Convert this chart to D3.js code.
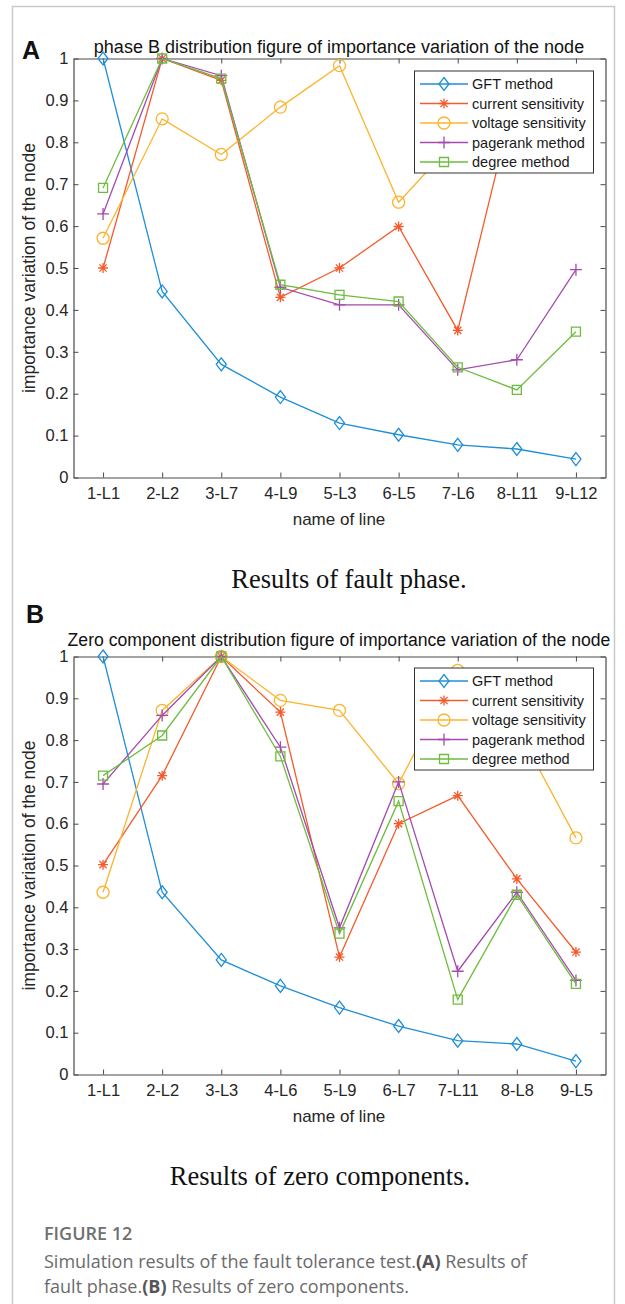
<!DOCTYPE html>
<html>
<head>
<meta charset="utf-8">
<script src="https://cdn.jsdelivr.net/npm/d3@7"></script>
<style>
  body { margin: 0; background: #fff; }
  svg { display: block; }
</style>
</head>
<body>
<svg id="fig" width="625" height="1304"></svg>
<script>
// data
const seriesNames = ["GFT method", "current sensitivity", "voltage sensitivity", "pagerank method", "degree method"];

const linesA = ["1-L1", "2-L2", "3-L7", "4-L9", "5-L3", "6-L5", "7-L6", "8-L11", "9-L12"];
const gftA = [1, 0.444, 0.270, 0.192, 0.130, 0.102, 0.078, 0.068, 0.044];
const currentA = [0.5, 1, 0.948, 0.430, 0.5, 0.599, 0.351, 0.93, 0.90];
const voltageA = [0.571, 0.856, 0.771, 0.884, 0.983, 0.657, 0.81, 0.85, 0.92];
const pagerankA = [0.629, 1, 0.959, 0.454, 0.412, 0.412, 0.257, 0.281, 0.496];
const degreeA = [0.691, 1, 0.952, 0.460, 0.436, 0.420, 0.263, 0.209, 0.348];

const linesB = ["1-L1", "2-L2", "3-L3", "4-L6", "5-L9", "6-L7", "7-L11", "8-L8", "9-L5"];
const gftB = [1, 0.436, 0.274, 0.212, 0.160, 0.116, 0.081, 0.073, 0.032];
const currentB = [0.502, 0.715, 1, 0.867, 0.281, 0.600, 0.667, 0.468, 0.293];
const voltageB = [0.436, 0.871, 1, 0.895, 0.871, 0.696, 0.967, 0.83, 0.566];
const pagerankB = [0.695, 0.859, 1, 0.783, 0.351, 0.700, 0.247, 0.436, 0.225];
const degreeB = [0.715, 0.811, 1, 0.761, 0.337, 0.654, 0.179, 0.430, 0.217];

const yTicks = [0, 0.1, 0.2, 0.3, 0.4, 0.5, 0.6, 0.7, 0.8, 0.9, 1];

const colors = ["#1f8fd6", "#f55a2c", "#fbb42c", "#a44ab0", "#6dbd3e"];
const markers = ["diamond", "asterisk", "circle", "plus", "square"];

const svg = d3.select("#fig");
const font = "'Liberation Sans', Arial, sans-serif";

// outer frame
svg.append("path")
    .attr("d", "M12.5,1304 V6.5 H614.5 V1304")
    .attr("fill", "none")
    .attr("stroke", "#c9c9c9")
    .attr("stroke-width", 1.5);

function markerPath(type) {
    if (type === "diamond") return "M0,-6.5 L5,0 L0,6.5 L-5,0 Z";
    if (type === "asterisk") return "M-5,0 H5 M0,-5 V5 M-3.6,-3.6 L3.6,3.6 M-3.6,3.6 L3.6,-3.6";
    if (type === "circle") return "M6,0 A6,6 0 1,1 -6,0 A6,6 0 1,1 6,0 Z";
    if (type === "plus") return "M-6,0 H6 M0,-6 V6";
    return "M-4.5,-4.5 H4.5 V4.5 H-4.5 Z";
}

function drawPanel(opt) {
    const x = d3.scalePoint().domain(opt.cats).range([73.5, 605.5]).padding(0.5);
    const y = d3.scaleLinear().domain([0, 1]).range([opt.bottom, opt.top]);
    const g = svg.append("g");

    // panel letter
    g.append("text")
        .attr("x", opt.letterX).attr("y", opt.letterY)
        .attr("font-family", font).attr("font-weight", "bold")
        .attr("font-size", 25).attr("fill", "#111")
        .text(opt.letter);

    // title
    g.append("text")
        .attr("x", 339).attr("y", opt.top - opt.titleGap)
        .attr("text-anchor", "middle")
        .attr("font-family", font).attr("font-size", opt.titleSize).attr("fill", "#111")
        .text(opt.title);

    // axes (MATLAB style: inward ticks, full box)
    const axColor = "#4a4a4a";
    const bottomAxis = g.append("g")
        .attr("transform", `translate(0,${opt.bottom})`)
        .call(d3.axisBottom(x).tickSizeInner(-5).tickSizeOuter(0).tickPadding(10));
    const leftAxis = g.append("g")
        .attr("transform", "translate(73.5,0)")
        .call(d3.axisLeft(y).tickValues(yTicks).tickFormat(d3.format("~g")).tickSizeInner(-5).tickSizeOuter(0).tickPadding(5));
    const topAxis = g.append("g")
        .attr("transform", `translate(0,${opt.top})`)
        .call(d3.axisTop(x).tickSizeInner(-5).tickSizeOuter(0).tickFormat(""));
    const rightAxis = g.append("g")
        .attr("transform", "translate(605.5,0)")
        .call(d3.axisRight(y).tickValues(yTicks).tickSizeInner(-5).tickSizeOuter(0).tickFormat(""));

    [bottomAxis, leftAxis, topAxis, rightAxis].forEach(a => {
        a.select(".domain").attr("stroke", axColor).attr("stroke-width", 1.2);
        a.selectAll(".tick line").attr("stroke", axColor).attr("stroke-width", 1);
        a.selectAll(".tick text")
            .attr("font-family", font).attr("font-size", 16.5).attr("fill", "#262626");
    });

    // axis labels
    g.append("text")
        .attr("x", 339).attr("y", opt.bottom + 47)
        .attr("text-anchor", "middle")
        .attr("font-family", font).attr("font-size", 17).attr("fill", "#262626")
        .text("name of line");
    g.append("text")
        .attr("transform", `translate(35,${(opt.top + opt.bottom) / 2}) rotate(-90)`)
        .attr("text-anchor", "middle")
        .attr("font-family", font).attr("font-size", 17.5).attr("fill", "#262626")
        .text("importance variation of the node");

    // series
    const line = d3.line().x((d, i) => x(opt.cats[i])).y(d => y(d));
    opt.series.forEach((vals, s) => {
        g.append("path")
            .attr("d", line(vals))
            .attr("fill", "none")
            .attr("stroke", colors[s])
            .attr("stroke-width", 1.3);
        g.selectAll(null)
            .data(vals)
            .enter()
            .append("path")
            .attr("transform", (d, i) => `translate(${x(opt.cats[i])},${y(d)})`)
            .attr("d", markerPath(markers[s]))
            .attr("fill", "none")
            .attr("stroke", colors[s])
            .attr("stroke-width", 1.3);
    });

    // legend
    const lg = g.append("g").attr("transform", `translate(414,${opt.legendTop})`);
    lg.append("rect")
        .attr("x", 0.5).attr("y", 0.5)
        .attr("width", 179).attr("height", 102)
        .attr("fill", "#fff")
        .attr("stroke", "#333").attr("stroke-width", 1);
    seriesNames.forEach((name, s) => {
        const yy = 13.5 + s * 19.5;
        lg.append("line")
            .attr("x1", 6).attr("x2", 54).attr("y1", yy).attr("y2", yy)
            .attr("stroke", colors[s]).attr("stroke-width", 1.3);
        lg.append("path")
            .attr("transform", `translate(30,${yy})`)
            .attr("d", markerPath(markers[s]))
            .attr("fill", "none")
            .attr("stroke", colors[s]).attr("stroke-width", 1.3);
        lg.append("text")
            .attr("x", 58).attr("y", yy + 5)
            .attr("font-family", font).attr("font-size", 14.5).attr("fill", "#1a1a1a")
            .text(name);
    });

    // sub caption under the panel
    g.append("text")
        .attr("x", opt.subX).attr("y", opt.bottom + 110)
        .attr("text-anchor", "middle")
        .attr("font-family", "'Liberation Serif', 'Times New Roman', serif")
        .attr("font-size", 26.5).attr("fill", "#111")
        .text(opt.sub);
}

drawPanel({
    letter: "A", letterX: 22, letterY: 59,
    title: "phase B distribution figure of importance variation of the node",
    titleSize: 18, titleGap: 6,
    cats: linesA, top: 58.5, bottom: 477.5, legendTop: 70.5,
    series: [gftA, currentA, voltageA, pagerankA, degreeA],
    sub: "Results of fault phase.", subX: 349
});

drawPanel({
    letter: "B", letterX: 26, letterY: 623,
    title: "Zero component distribution figure of importance variation of the node",
    titleSize: 17.6, titleGap: 11,
    cats: linesB, top: 656.5, bottom: 1074.5, legendTop: 667.5,
    series: [gftB, currentB, voltageB, pagerankB, degreeB],
    sub: "Results of zero components.", subX: 320
});

// figure caption
const cap = svg.append("g").attr("font-family", "'Open Sans', 'Noto Sans', sans-serif").attr("fill", "#6b6b6b");
cap.append("text")
    .attr("x", 44).attr("y", 1240)
    .attr("font-size", 18).attr("font-weight", 600)
    .attr("fill", "#707070")
    .text("FIGURE 12");
const l1 = cap.append("text").attr("x", 44).attr("y", 1268).attr("font-size", 18);
l1.append("tspan").text("Simulation results of the fault tolerance test.");
l1.append("tspan").attr("font-weight", "bold").attr("fill", "#555").text("(A)");
l1.append("tspan").text(" Results of");
const l2 = cap.append("text").attr("x", 44).attr("y", 1293).attr("font-size", 18);
l2.append("tspan").text("fault phase.");
l2.append("tspan").attr("font-weight", "bold").attr("fill", "#555").text("(B)");
l2.append("tspan").text(" Results of zero components.");
</script>
</body>
</html>
